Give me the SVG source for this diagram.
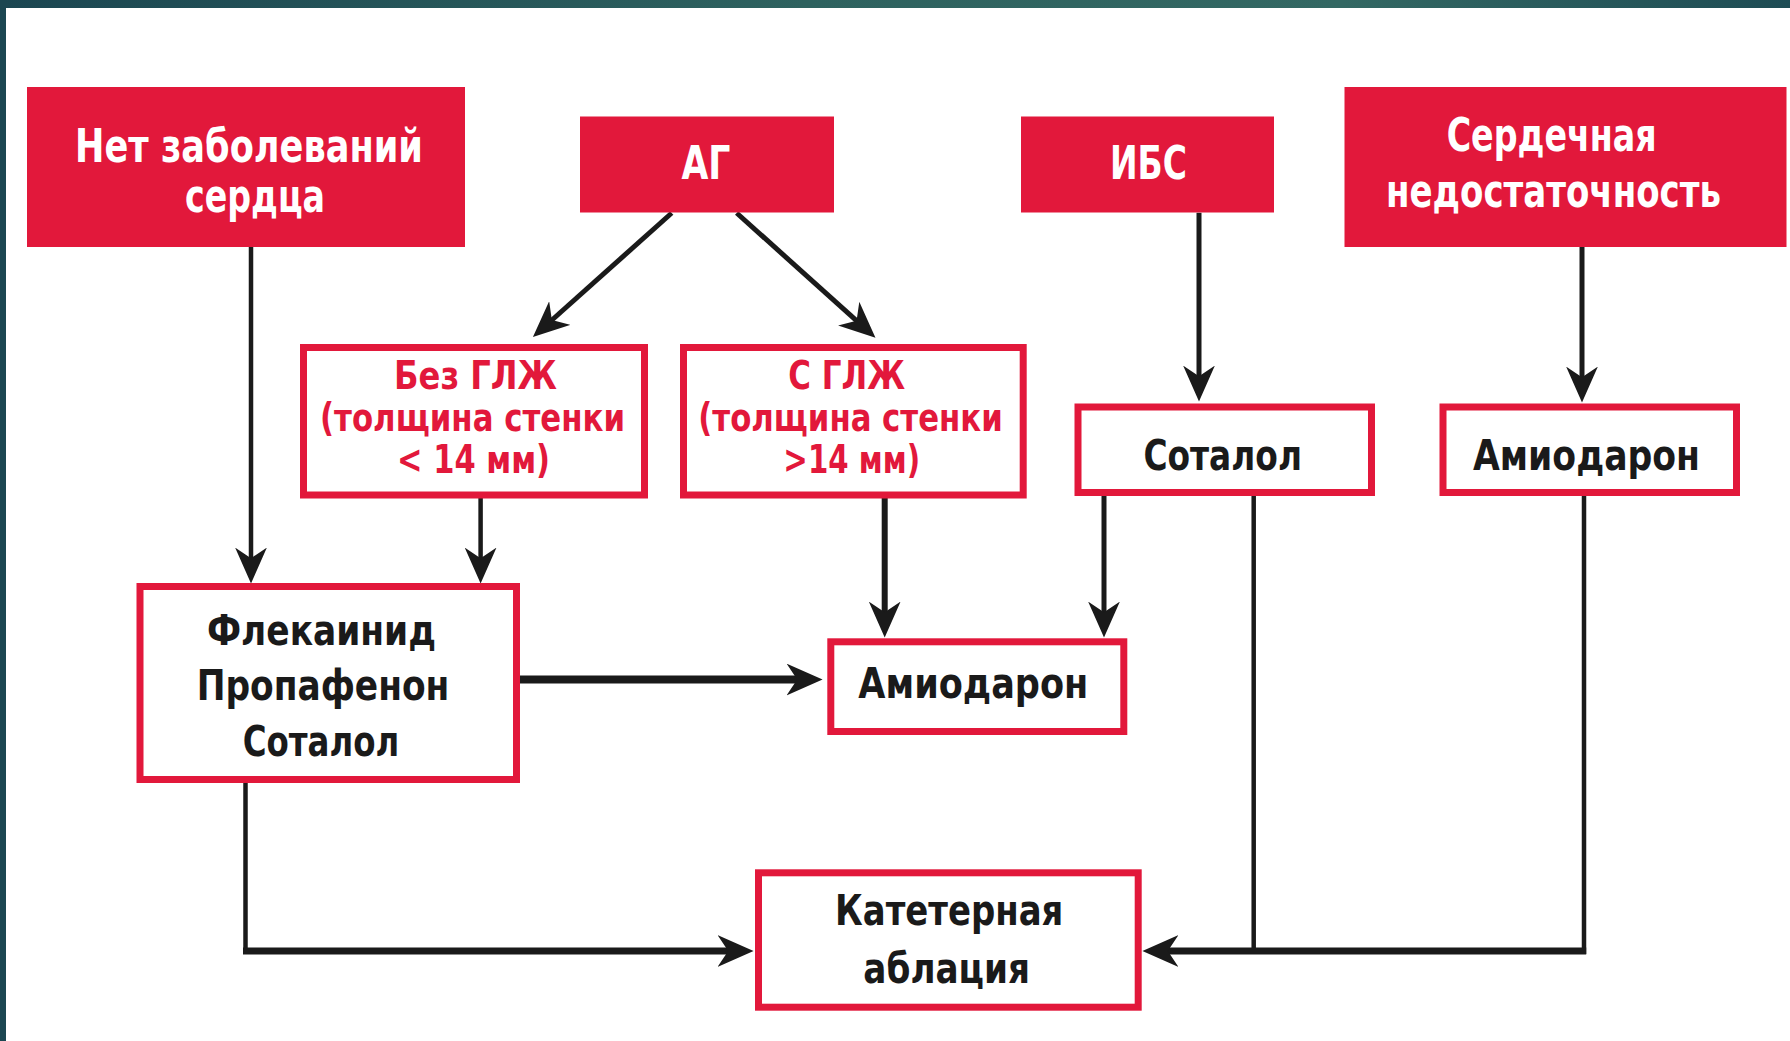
<svg xmlns="http://www.w3.org/2000/svg" width="1790" height="1041" viewBox="0 0 1790 1041">
<defs>
<linearGradient id="topbar" x1="0" y1="0" x2="1" y2="0">
<stop offset="0" stop-color="#1b4651"/>
<stop offset="0.45" stop-color="#2e625f"/>
<stop offset="0.75" stop-color="#336863"/>
<stop offset="1" stop-color="#1e4c54"/>
</linearGradient>
<marker id="arr" markerUnits="userSpaceOnUse" markerWidth="36" markerHeight="32" viewBox="0 0 34 30" refX="24" refY="15" orient="auto">
<path d="M0,0 L34,15 L0,30 L10,15 Z" fill="#1a1a1a"/>
</marker>
</defs>
<style>
.fill{fill:#e2183b}
.box{fill:#ffffff;stroke:#e2183b;stroke-width:7}
text{font-family:"DejaVu Sans Condensed","DejaVu Sans","Liberation Sans",sans-serif;font-stretch:condensed;font-weight:bold;text-anchor:middle}
.wt{fill:#ffffff;font-size:46px}
.bk{fill:#1a1a1a;font-size:43px}
.rd{fill:#e2183b;font-size:39px}
.ln{fill:none;stroke:#1a1a1a;stroke-width:5}
</style>
<rect x="0" y="0" width="1790" height="1041" fill="#ffffff"/>
<rect x="0" y="0" width="1790" height="8" fill="url(#topbar)"/>
<rect x="0" y="0" width="6" height="1041" fill="#1b4651"/>

<g id="connectors">
<path class="ln" style="stroke-width:4.5" d="M251,247 V573" marker-end="url(#arr)"/>
<path class="ln" d="M671.7,213 L540.8,330" marker-end="url(#arr)"/>
<path class="ln" d="M736.7,213 L867.6,330.6" marker-end="url(#arr)"/>
<path class="ln" style="stroke-width:4.5" d="M480.6,497 V573" marker-end="url(#arr)"/>
<path class="ln" style="stroke-width:6" d="M884.7,497 V627" marker-end="url(#arr)"/>
<path class="ln" d="M1104,496 V627" marker-end="url(#arr)"/>
<path class="ln" d="M1199,212.7 V391" marker-end="url(#arr)"/>
<path class="ln" d="M1582,247 V392" marker-end="url(#arr)"/>
<path class="ln" style="stroke-width:8" d="M520,679.5 H812" marker-end="url(#arr)"/>
<path class="ln" style="stroke-width:4.5" d="M245.5,783 V954"/>
<path class="ln" style="stroke-width:7" d="M243,951 H743" marker-end="url(#arr)"/>
<path class="ln" style="stroke-width:4.5" d="M1253.7,496 V951"/>
<path class="ln" style="stroke-width:4.5" d="M1584,496 V954"/>
<path class="ln" style="stroke-width:7" d="M1586.2,951 H1153" marker-end="url(#arr)"/>
</g>

<g id="node-net">
<rect class="fill" x="27" y="87" width="438" height="160"/>
<text class="wt" x="249" y="161.7" textLength="348" lengthAdjust="spacingAndGlyphs">Нет заболеваний</text>
<text class="wt" x="255" y="212" textLength="140" lengthAdjust="spacingAndGlyphs">сердца</text>
</g>
<g id="node-ag">
<rect class="fill" x="580" y="116.5" width="254" height="96"/>
<text class="wt" x="706" y="179.3" textLength="49" lengthAdjust="spacingAndGlyphs">АГ</text>
</g>
<g id="node-ibs">
<rect class="fill" x="1021" y="116.5" width="253" height="96"/>
<text class="wt" x="1148.5" y="179.3" textLength="77" lengthAdjust="spacingAndGlyphs">ИБС</text>
</g>
<g id="node-sn">
<rect class="fill" x="1344.5" y="87" width="442" height="160"/>
<text class="wt" x="1551.7" y="150.7" textLength="210" lengthAdjust="spacingAndGlyphs">Сердечная</text>
<text class="wt" x="1553.5" y="206.7" textLength="335" lengthAdjust="spacingAndGlyphs">недостаточность</text>
</g>
<g id="node-bez">
<rect class="box" x="303.5" y="347.5" width="341" height="147.5"/>
<text class="rd" x="475.5" y="389" textLength="163" lengthAdjust="spacingAndGlyphs">Без ГЛЖ</text>
<text class="rd" x="472.5" y="430.7" textLength="305" lengthAdjust="spacingAndGlyphs">(толщина стенки</text>
<text class="rd" x="473.5" y="472.5" textLength="153" lengthAdjust="spacingAndGlyphs">&lt; 14 мм)</text>
</g>
<g id="node-s">
<rect class="box" x="683.5" y="347.5" width="339.7" height="147.5"/>
<text class="rd" x="846.7" y="388.5" textLength="116.7" lengthAdjust="spacingAndGlyphs">С ГЛЖ</text>
<text class="rd" x="850.5" y="430.7" textLength="304.4" lengthAdjust="spacingAndGlyphs">(толщина стенки</text>
<text class="rd" x="851.7" y="472.5" textLength="136.7" lengthAdjust="spacingAndGlyphs">&gt;14 мм)</text>
</g>
<g id="node-sotalol">
<rect class="box" x="1078" y="407" width="293.5" height="85.5"/>
<text class="bk" x="1222.7" y="470" textLength="158.5" lengthAdjust="spacingAndGlyphs">Соталол</text>
</g>
<g id="node-amio-right">
<rect class="box" x="1443" y="407" width="293.5" height="85.5"/>
<text class="bk" x="1586.5" y="470" textLength="227" lengthAdjust="spacingAndGlyphs">Амиодарон</text>
</g>
<g id="node-flek">
<rect class="box" x="140" y="586.5" width="376.5" height="193"/>
<text class="bk" x="321.5" y="645" textLength="229" lengthAdjust="spacingAndGlyphs">Флекаинид</text>
<text class="bk" x="323" y="700" textLength="252.7" lengthAdjust="spacingAndGlyphs">Пропафенон</text>
<text class="bk" x="321" y="756" textLength="156.7" lengthAdjust="spacingAndGlyphs">Соталол</text>
</g>
<g id="node-amio-mid">
<rect class="box" x="830.8" y="641.8" width="293" height="89.7"/>
<text class="bk" x="973.3" y="698.3" textLength="230" lengthAdjust="spacingAndGlyphs">Амиодарон</text>
</g>
<g id="node-ablation">
<rect class="box" x="758.5" y="872.8" width="379.7" height="134.4"/>
<text class="bk" x="949.2" y="925" textLength="228.3" lengthAdjust="spacingAndGlyphs">Катетерная</text>
<text class="bk" x="946.7" y="983.3" textLength="166.7" lengthAdjust="spacingAndGlyphs">аблация</text>
</g>
</svg>
